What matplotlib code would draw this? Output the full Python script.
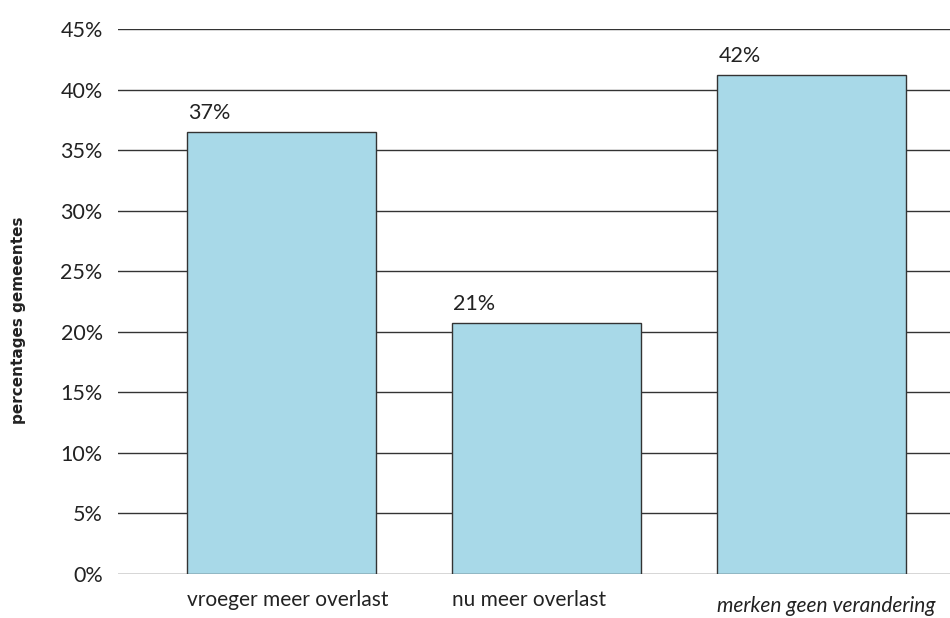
import matplotlib
matplotlib.use("Agg")
import matplotlib.pyplot as plt

categories = ["vroeger meer overlast", "nu meer overlast", "merken geen verandering"]
values = [36.5, 20.7, 41.2]
value_labels = ["37%", "21%", "42%"]
yticks = [0, 5, 10, 15, 20, 25, 30, 35, 40, 45]

plt.rcParams["font.family"] = ["Lato", "DejaVu Sans"]

fig = plt.figure(figsize=(9.5, 6.18), dpi=100)
ax = fig.add_axes([0.1242, 0.0712, 0.8758, 0.8819])

x = list(range(len(categories)))
width = 0.713
ax.bar(x, values, width=width, color="#a8d9e8", edgecolor="#333333",
       linewidth=1, zorder=3)

ax.set_xlim(-0.617, 2.523)
ax.set_ylim(0, 45)
ax.set_yticks(yticks)
ax.set_yticklabels([f"{t}%" for t in yticks], fontsize=15.5, color="#222222")
ax.tick_params(axis="y", length=0, pad=11)
ax.set_xticks([])
for s in ax.spines.values():
    s.set_visible(False)
ax.yaxis.grid(True, color="#333333", linewidth=1)
ax.set_axisbelow(True)

for i, (v, lab, cat) in enumerate(zip(values, value_labels, categories)):
    left = i - width / 2
    ax.text(left + 0.005, v + 0.75, lab, ha="left", va="bottom",
            fontsize=15.5, color="#222222")
    if i == 2:
        ax.text(left, -3.5, cat, ha="left", va="bottom", fontsize=15,
                style="italic", color="#222222")
    else:
        ax.text(left, -1.35, cat, ha="left", va="top", fontsize=15,
                color="#222222")

fig.text(0.020, 0.482, "percentages gemeentes", rotation=90, ha="center",
         va="center", fontsize=11, fontweight="bold", color="#222222",
         family="DejaVu Sans")

fig.savefig("out.png", dpi=100)
